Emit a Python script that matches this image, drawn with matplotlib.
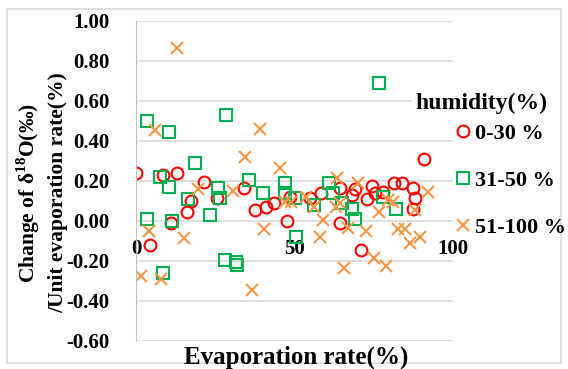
import matplotlib
matplotlib.use("Agg")
import matplotlib.pyplot as plt
from matplotlib.patches import Rectangle

plt.rcParams["font.family"] = ["Liberation Serif", "DejaVu Serif"]
plt.rcParams["font.weight"] = "bold"
plt.rcParams["mathtext.fontset"] = "custom"
plt.rcParams["mathtext.rm"] = "Liberation Serif:bold"
plt.rcParams["mathtext.bf"] = "Liberation Serif:bold"

# Humidity 0-30 %
low_x = [0, 4.5, 8.5, 11, 13, 16, 17.5, 21.5, 25.5, 34, 37.5, 41, 43.5, 47.5, 48.5,
         55, 58.5, 64.5, 64.5, 68, 69, 71, 73, 74.5, 75.5, 78, 81.5, 84, 87.5, 88,
         87.5, 91]
low_y = [0.24, -0.12, 0.23, -0.01, 0.24, 0.045, 0.10, 0.195, 0.115, 0.165, 0.055,
         0.07, 0.09, 0.0, 0.12, 0.115, 0.14, 0.165, -0.01, 0.13, 0.16, -0.145, 0.11,
         0.175, 0.14, 0.145, 0.19, 0.19, 0.165, 0.115, 0.06, 0.31]

# Humidity 31-50 %
mid_x = [3.5, 3.5, 7.5, 8.5, 10.5, 10.5, 11.5, 16.5, 18.5, 23.5, 26, 26.5, 28.5, 28,
         31.5, 31.8, 35.5, 40, 47, 47, 50, 50.5, 56, 61, 62, 65, 68, 69, 76.5, 78, 82]
mid_y = [0.50, 0.01, 0.22, -0.26, 0.445, 0.17, 0.0, 0.11, 0.29, 0.03, 0.165, 0.115,
         0.53, -0.195, -0.205, -0.22, 0.205, 0.14, 0.19, 0.14, 0.115, -0.08, 0.08,
         0.19, 0.14, 0.09, 0.06, 0.01, 0.69, 0.12, 0.06]

# Humidity 51-100 %
high_x = [1.5, 4, 6, 8, 13, 15, 19.5, 30.5, 34.5, 36.5, 39, 40.5, 45.5, 47, 49, 53.5,
          56, 58, 59, 63, 63.5, 64.5, 65.5, 67, 70, 72.5, 75, 76.5, 79, 79.5, 81, 82.5,
          85, 86.5, 88, 89.5, 92]
high_y = [-0.275, -0.05, 0.455, -0.29, 0.865, -0.085, 0.16, 0.15, 0.32, -0.345, 0.46,
          -0.04, 0.265, 0.095, 0.095, 0.12, 0.07, -0.08, 0.005, 0.07, 0.215, 0.09,
          -0.235, -0.035, 0.19, -0.05, -0.185, 0.045, -0.225, 0.105, 0.095, -0.04,
          -0.04, -0.11, 0.055, -0.08, 0.145]

series_labels = ["0-30 %", "31-50 %", "51-100 %"]
x_ticks = [0, 50, 100]
y_ticks = [-0.6, -0.4, -0.2, 0.0, 0.2, 0.4, 0.6, 0.8, 1.0]

W, H = 568, 369
fig = plt.figure(figsize=(W / 100, H / 100), dpi=100)
ax = fig.add_axes([136 / W, 1 - 341 / H, (453 - 136) / W, (341 - 21) / H])

h1, = ax.plot(low_x, low_y, ls="none", marker="o", ms=8.5, mfc="none",
              mec="#FF0000", mew=1.5, label=series_labels[0])
h2, = ax.plot(mid_x, mid_y, ls="none", marker="s", ms=8, mfc="none",
              mec="#00B050", mew=1.5, label=series_labels[1])
h3, = ax.plot(high_x, high_y, ls="none", marker="x", ms=8, mfc="none",
              mec="#F79646", mew=1.5, label=series_labels[2])

ax.set_xlim(0, 100)
ax.set_ylim(-0.6, 1.0)
ax.set_yticks(y_ticks)
ax.set_yticklabels([f"{v:.2f}" for v in y_ticks])
ax.set_xticks(x_ticks)
ax.set_xticklabels([str(v) for v in x_ticks])
ax.grid(axis="y", color="#d9d9d9", lw=1.2)
ax.set_axisbelow(True)
for s in ["top", "right"]:
    ax.spines[s].set_visible(False)
ax.spines["left"].set_color("#bfbfbf")
ax.spines["bottom"].set_position(("data", 0))
ax.spines["bottom"].set_visible(False)
ax.tick_params(axis="y", length=0, pad=19, labelsize=15)
ax.tick_params(axis="x", length=0, pad=13, labelsize=15)

fig.text(296 / W, 1 - 357 / H, "Evaporation rate(%)", ha="center", va="center",
         fontsize=18, fontweight="bold")

fig.text(41 / W, 1 - 193 / H,
         "Change of δ$^{18}$O(‰)\n/Unit evaporation rate(%)",
         rotation=90, ha="center", va="center", multialignment="center",
         fontsize=15.5, fontweight="bold", linespacing=1.4)

fig.text(415 / W, 1 - 103 / H, "humidity(%)", ha="left", va="center",
         fontsize=17, fontweight="bold",
         bbox=dict(facecolor="white", edgecolor="none", pad=2))

fig.legend(handles=[h1, h2, h3], loc="upper left",
           bbox_to_anchor=(455 / W, 1 - 123 / H), frameon=False,
           fontsize=16, handlelength=0.7, handletextpad=0.2,
           labelspacing=1.2, borderpad=0, borderaxespad=0)

fig.add_artist(Rectangle((7 / W, 1 - 363 / H), (561 - 7) / W, (363 - 9) / H,
                         transform=fig.transFigure, fill=False,
                         edgecolor="#d9d9d9", lw=1.2))

fig.savefig("out.png", dpi=100)
